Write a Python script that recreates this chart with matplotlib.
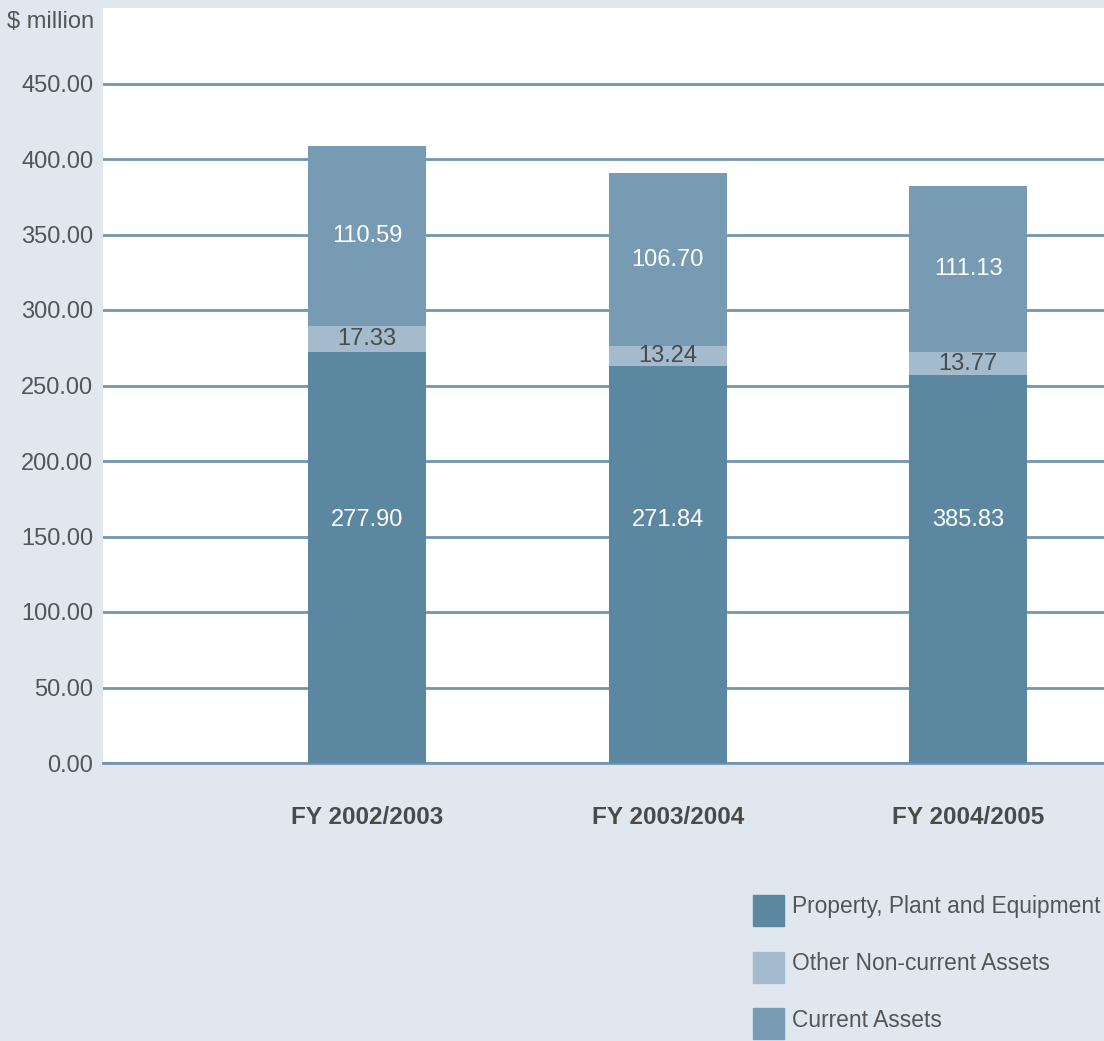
import matplotlib
matplotlib.use("Agg")
import matplotlib.pyplot as plt
import numpy as np
from matplotlib.patches import Rectangle

plt.rcParams['font.family'] = ['Liberation Sans', 'DejaVu Sans']

# 数据
years = ["FY 2002/2003", "FY 2003/2004", "FY 2004/2005"]
series_names = ["Property, Plant and Equipment", "Other Non-current Assets", "Current Assets"]
ppe = [272.2, 262.7, 256.8]
other = [17.0, 13.3, 15.2]
current = [119.3, 114.6, 110.0]
ppe_labels = ["277.90", "271.84", "385.83"]
other_labels = ["17.33", "13.24", "13.77"]
current_labels = ["110.59", "106.70", "111.13"]

# 样式
BG = "#e0e7ef"
GRID = "#7296ae"
C_PPE = "#5b87a1"
C_OTHER = "#a3bbcd"
C_CUR = "#769bb3"
TXT = "#555555"
FS = 17
W, H = 1104, 1041

fig = plt.figure(figsize=(W / 100, H / 100), dpi=100, facecolor=BG)
ax = fig.add_axes([103 / W, 1 - 763 / H, 1 - 103 / W, (763 - 8) / H])
ax.set_facecolor("white")

x = np.arange(len(years))
ppe = np.array(ppe)
other = np.array(other)
current = np.array(current)

ax.bar(x, ppe, width=0.393, color=C_PPE, zorder=3)
ax.bar(x, other, width=0.393, bottom=ppe, color=C_OTHER, zorder=3)
ax.bar(x, current, width=0.393, bottom=ppe + other, color=C_CUR, zorder=3)

# 柱内数值标签
ppe_label_y = 161
for i in range(len(years)):
    ax.text(x[i], ppe_label_y, ppe_labels[i], ha="center", va="center",
            color="white", fontsize=FS, zorder=4)
    ax.text(x[i], ppe[i] + other[i] / 2, other_labels[i], ha="center", va="center",
            color="#4a4a4a", fontsize=FS, zorder=4)
    ax.text(x[i], ppe[i] + other[i] + current[i] / 2, current_labels[i],
            ha="center", va="center", color="white", fontsize=FS, zorder=4)

ax.set_xlim(-0.879, 2.452)
ax.set_ylim(0, 500)
ax.set_yticks(np.arange(0, 451, 50))
ax.set_yticklabels([f"{v:.2f}" for v in np.arange(0, 451, 50)])
ax.grid(axis="y", color=GRID, linewidth=2, zorder=1)
ax.axhline(0, color=GRID, linewidth=2, clip_on=False, zorder=2)
ax.set_axisbelow(True)
for s in ax.spines.values():
    s.set_visible(False)
ax.tick_params(axis="y", length=0, pad=7, labelsize=FS, labelcolor=TXT)
ax.set_xticks(x)
ax.set_xticklabels(years, fontsize=17.5, fontweight="bold", color="#4a4a4a")
ax.tick_params(axis="x", length=0, pad=31)

fig.text(94 / W, 1 - 22 / H, "$ million", ha="right", va="center",
         fontsize=FS, color=TXT)

# 图例
colors = [C_PPE, C_OTHER, C_CUR]
for k, (name, c) in enumerate(zip(series_names, colors)):
    top = 895 + k * 56.7
    fig.patches.append(Rectangle((753 / W, 1 - (top + 31) / H), 31 / W, 31 / H,
                                 transform=fig.transFigure, color=c, figure=fig))
    fig.text(792 / W, 1 - (top + 12) / H, name, ha="left", va="center",
             fontsize=16.4, color=TXT)

fig.savefig("out.png", dpi=100, facecolor=BG)
